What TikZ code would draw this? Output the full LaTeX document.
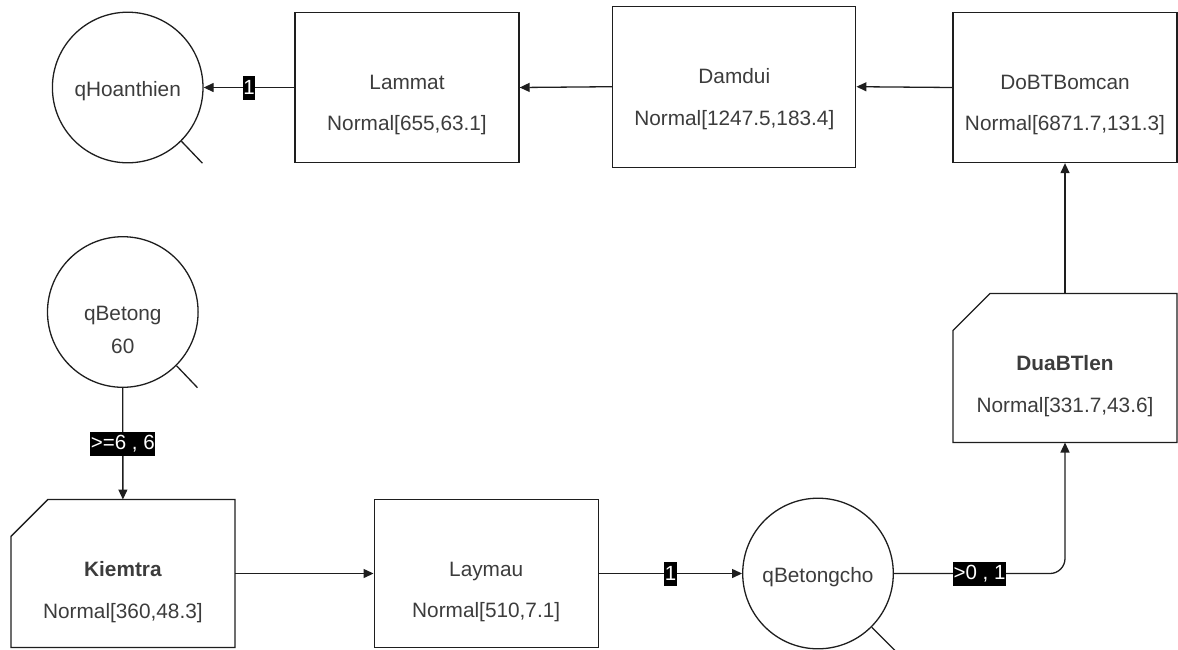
\documentclass[tikz,border=0pt]{standalone}
\usepackage{fontspec}
\setmainfont{Liberation Sans}
\usetikzlibrary{arrows.meta}
\definecolor{ink}{HTML}{1E1E1E}
\definecolor{txt}{HTML}{3C3C3C}

\begin{document}
\begin{tikzpicture}[x=1pt,y=-1pt,
  box/.style={draw=ink, line width=1.3pt, minimum width=224pt, minimum height=150pt, inner sep=0pt},
  frame/.style={draw=none, minimum width=224pt, minimum height=149pt, inner sep=0pt, outer sep=0pt},
  outline/.style={draw=ink, line width=1.3pt, line join=miter},
  place/.style={circle, draw=ink, line width=1.3pt, minimum size=150.6pt, inner sep=0pt},
  title/.style={anchor=base, text=txt, font=\fontsize{20.8}{24}\selectfont},
  btitle/.style={anchor=base, text=txt, font=\fontsize{20.8}{24}\selectfont\bfseries},
  arr/.style={draw=ink, line width=1.3pt, -{Triangle[length=10pt,width=9pt]}},
  lbl/.style={sharp corners, fill=black, text=white, font=\fontsize{20.5}{24}\selectfont, inner xsep=0.5pt, inner ysep=0pt, minimum height=24pt},
  handle/.style={draw=ink, line width=1.3pt}
]
\useasboundingbox (0,0) rectangle (1178,649);

% ---- top row: places and activities ----
\node[place] (qhoan) at (127.7,87.5) {};
\node[title] (qhoanT) at ([yshift=-8.7pt]qhoan.center) {qHoanthien};
\draw[handle] (qhoan.-45) -- ++(21,22);

\node[box] (lammat) at (407,87.5) {};
\node[title] (lammatT) at ([yshift=-78pt]lammat.north) {Lammat};
\node[title] (lammatN) at ([yshift=-119pt]lammat.north) {Normal[655,63.1]};

\node[box, minimum width=243pt, minimum height=161pt] (damdui) at (734.3,86.7) {};
\node[title] (damduiT) at ([yshift=-78pt]damdui.north) {Damdui};
\node[title] (damduiN) at ([yshift=-120pt]damdui.north) {Normal[1247.5,183.4]};

\node[box] (dobt) at (1065,87.5) {};
\node[title] (dobtT) at ([yshift=-78pt]dobt.north) {DoBTBomcan};
\node[title] (dobtN) at ([yshift=-119pt]dobt.north) {Normal[6871.7,131.3]};

% ---- right column: chamfered activity ----
\node[frame] (dua) at (1065,368) {};
\draw[outline] (dua.south west) -- ([yshift=-37pt]dua.north west)
  -- ([xshift=37pt]dua.north west) -- (dua.north east) -- (dua.south east) -- cycle;
\node[btitle] (duaT) at ([yshift=-77pt]dua.north) {DuaBTlen};
\node[title] (duaN) at ([yshift=-119pt]dua.north) {Normal[331.7,43.6]};

% ---- left column and bottom row ----
\node[place] (qbet) at (122.8,312) {};
\node[title] (qbetT) at ([yshift=-8.7pt]qbet.center) {qBetong};
\node[title] (qbetN) at ([yshift=-41.3pt]qbet.center) {60};
\draw[handle] (qbet.-45) -- ++(21,22);

\node[frame, minimum height=148pt] (kiem) at (122.9,573.5) {};
\draw[outline] (kiem.south west) -- ([yshift=-37pt]kiem.north west)
  -- ([xshift=37pt]kiem.north west) -- (kiem.north east) -- (kiem.south east) -- cycle;
\node[btitle] (kiemT) at ([yshift=-77pt]kiem.north) {Kiemtra};
\node[title] (kiemN) at ([yshift=-119pt]kiem.north) {Normal[360,48.3]};

\node[box, minimum height=148pt] (laymau) at (486.2,573.5) {};
\node[title] (laymauT) at ([yshift=-78pt]laymau.north) {Laymau};
\node[title] (laymauN) at ([yshift=-119pt]laymau.north) {Normal[510,7.1]};

\node[place] (qbc) at (818,573.5) {};
\node[title] (qbcT) at ([yshift=-9pt]qbc.center) {qBetongcho};
\draw[handle] (qbc.-45) -- ++(24,24);

% ---- connectors ----
\draw[arr] (lammat.west) -- node[lbl] {1} (qhoan.east);
\draw[arr] (damdui.west) -- (lammat.east);
\draw[arr] (dobt.west) -- (damdui.east);
\draw[arr] (dua.north) -- (dobt.south);
\draw[arr] (qbet.south) -- node[lbl] {>=6 , 6} (kiem.north);
\draw[arr] (kiem.east) -- (laymau.west);
\draw[arr] (laymau.east) -- node[lbl] {1} (qbc.west);
\draw[arr, rounded corners=15pt] (qbc.east) -- node[lbl] {>0 , 1} (qbc.east -| dua.south) -- (dua.south);
\end{tikzpicture}
\end{document}
